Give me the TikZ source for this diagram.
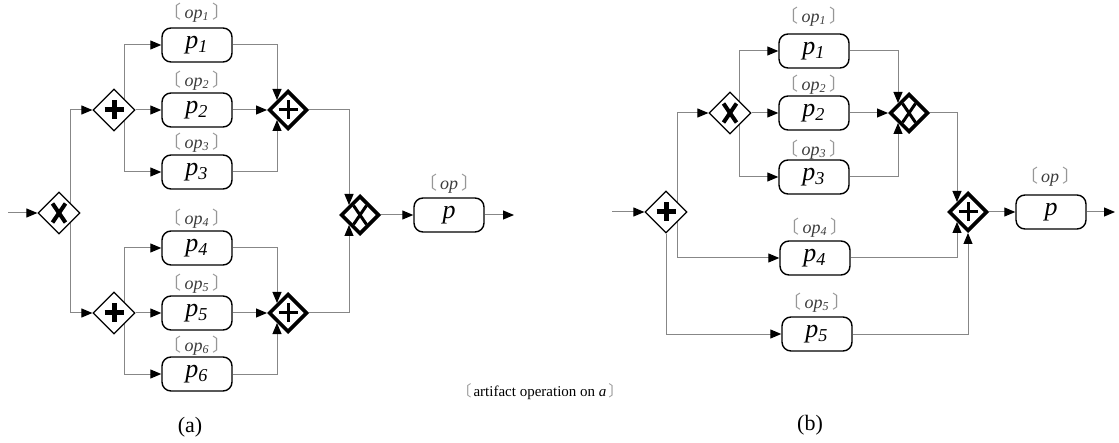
\documentclass[tikz,border=0pt]{standalone}
\usepackage{fontspec}
\setmainfont{Liberation Serif}
\newfontfamily\cjk{Noto Sans CJK SC}
\usetikzlibrary{shapes.geometric,arrows.meta,calc,backgrounds}
\definecolor{flowcolor}{RGB}{135,135,135}
\definecolor{bracketcolor}{RGB}{150,150,150}
\definecolor{opcolor}{RGB}{60,60,60}
\newcommand{\opbox}[1]{{\color{bracketcolor}\cjk 〔}\hspace{1.5pt}{\color{opcolor}\textit{#1}}\hspace{1.5pt}{\color{bracketcolor}\cjk 〕}}

\begin{document}
\begin{tikzpicture}[x=0.5pt,y=-0.5pt
,ptask/.style={draw=black,fill=white,rounded corners=4.5pt,line width=0.7pt,minimum width=35pt,minimum height=17pt,inner sep=0pt,font=\fontsize{13}{13}\selectfont\itshape}
,pgate/.style={diamond,draw=black,fill=white,aspect=1,inner sep=0pt}
,psplit/.style={pgate,line width=0.6pt,minimum size=21pt}
,pjoin/.style={pgate,line width=1.8pt,minimum size=19.2pt}
,pmarkx/.style={path picture={\draw[line width=#1] ($(path picture bounding box.center)+(-6.5,-9.5)$) -- ($(path picture bounding box.center)+(6.5,9.5)$) ($(path picture bounding box.center)+(6.5,-9.5)$) -- ($(path picture bounding box.center)+(-6.5,9.5)$);}}
,pmarkplus/.style={path picture={\draw[line width=#1] ($(path picture bounding box.center)+(-9.5,0)$) -- ($(path picture bounding box.center)+(9.5,0)$) ($(path picture bounding box.center)+(0,-9.5)$) -- ($(path picture bounding box.center)+(0,9.5)$);}}
,pflow/.style={draw=flowcolor,line width=0.5pt,-{Triangle[length=5.5pt,width=4.5pt,color=black]}}
,plabel/.style={inner sep=0pt,font=\fontsize{9}{10}\selectfont}
,pnote/.style={inner sep=0pt,font=\fontsize{7.5}{8}\selectfont}
,pcaption/.style={inner sep=0pt,font=\fontsize{11}{12}\selectfont}
]
\useasboundingbox (0,0) rectangle (1119,443);
\node[psplit,pmarkx=2pt] (ga) at (59,213) {};
\node[psplit,pmarkplus=2.5pt] (sa1) at (114,110) {};
\node[psplit,pmarkplus=2.5pt] (sa2) at (114,313) {};
\node[ptask] (pa1) at (197,45) {p\textsubscript{1}};
\node[ptask] (pa2) at (197,110) {p\textsubscript{2}};
\node[ptask] (pa3) at (197,172) {p\textsubscript{3}};
\node[ptask] (pa4) at (197,248) {p\textsubscript{4}};
\node[ptask] (pa5) at (197,313) {p\textsubscript{5}};
\node[ptask] (pa6) at (197,374) {p\textsubscript{6}};
\node[plabel] (opa1) at (197,13) {\opbox{op\textsubscript{1}}};
\node[plabel] (opa2) at (197,81) {\opbox{op\textsubscript{2}}};
\node[plabel] (opa3) at (197,143) {\opbox{op\textsubscript{3}}};
\node[plabel] (opa4) at (197,219) {\opbox{op\textsubscript{4}}};
\node[plabel] (opa5) at (197,284) {\opbox{op\textsubscript{5}}};
\node[plabel] (opa6) at (197,346) {\opbox{op\textsubscript{6}}};
\node[pjoin,pmarkplus=1.5pt] (ja1) at (288,110) {};
\node[pjoin,pmarkplus=1.5pt] (ja2) at (288,313) {};
\node[pjoin,pmarkx=1.5pt] (jxa) at (360,215) {};
\node[ptask] (pa) at (449,215) {p};
\node[plabel] (opa) at (449,184) {\opbox{op}};
\coordinate (ina) at (8,213);
\coordinate (outa) at (514,215);
\node[psplit,pmarkplus=2.5pt] (sb) at (666,212) {};
\node[psplit,pmarkx=2pt] (xb) at (730,113) {};
\node[ptask] (pb1) at (814,51) {p\textsubscript{1}};
\node[ptask] (pb2) at (814,113) {p\textsubscript{2}};
\node[ptask] (pb3) at (814,177) {p\textsubscript{3}};
\node[ptask] (pb4) at (815,258) {p\textsubscript{4}};
\node[ptask] (pb5) at (817,334) {p\textsubscript{5}};
\node[plabel] (opb1) at (814,17) {\opbox{op\textsubscript{1}}};
\node[plabel] (opb2) at (814,85) {\opbox{op\textsubscript{2}}};
\node[plabel] (opb3) at (814,150) {\opbox{op\textsubscript{3}}};
\node[plabel] (opb4) at (815,228) {\opbox{op\textsubscript{4}}};
\node[plabel] (opb5) at (817,303) {\opbox{op\textsubscript{5}}};
\node[pjoin,pmarkx=1.5pt] (jxb) at (909,113) {};
\node[pjoin,pmarkplus=1.5pt] (jb) at (968,212) {};
\node[ptask] (pb) at (1051,212) {p};
\node[plabel] (opb) at (1050,177) {\opbox{op}};
\coordinate (inb) at (612,212);
\coordinate (outb) at (1115,212);
\node[pnote] (note) at (540,392) {{\color{bracketcolor}\cjk 〔}\hspace{1pt}artifact operation on \textit{a}\hspace{1pt}{\color{bracketcolor}\cjk 〕}};
\node[pcaption] (capa) at (190,427) {(a)};
\node[pcaption] (capb) at (810,425) {(b)};
\begin{scope}[on background layer]
\draw[pflow] (ina) -- (ga.west);
\draw[pflow] ($(ga.center)+(11,0)$) |- (sa1.west);
\draw[pflow] ($(ga.center)+(11,0)$) |- (sa2.west);
\draw[pflow] ($(sa1.center)+(10,0)$) |- (pa1.west);
\draw[pflow] (sa1.east) -- (pa2.west);
\draw[pflow] ($(sa1.center)+(10,0)$) |- (pa3.west);
\draw[pflow] ($(sa2.center)+(10,0)$) |- (pa4.west);
\draw[pflow] (sa2.east) -- (pa5.west);
\draw[pflow] ($(sa2.center)+(10,0)$) |- (pa6.west);
\draw[pflow] (pa1.east) -| ($(ja1.center)+(-11,-10)$);
\draw[pflow] (pa2.east) -- (ja1.west);
\draw[pflow] (pa3.east) -| ($(ja1.center)+(-11,10)$);
\draw[pflow] (pa4.east) -| ($(ja2.center)+(-11,-10)$);
\draw[pflow] (pa5.east) -- (ja2.west);
\draw[pflow] (pa6.east) -| ($(ja2.center)+(-11,10)$);
\draw[pflow] (ja1.east) -| ($(jxa.center)+(-11,-10)$);
\draw[pflow] (ja2.east) -| ($(jxa.center)+(-11,10)$);
\draw[pflow] (jxa.east) -- (pa.west);
\draw[pflow] (pa.east) -- (outa);
\draw[pflow] (inb) -- (sb.west);
\draw[pflow] ($(sb.center)+(11,0)$) |- (xb.west);
\draw[pflow] ($(sb.center)+(11,0)$) |- (pb4.west);
\draw[pflow] (sb.south) |- (pb5.west);
\draw[pflow] ($(xb.center)+(9,0)$) |- (pb1.west);
\draw[pflow] (xb.east) -- (pb2.west);
\draw[pflow] ($(xb.center)+(9,0)$) |- (pb3.west);
\draw[pflow] (pb1.east) -| ($(jxb.center)+(-11,-10)$);
\draw[pflow] (pb2.east) -- (jxb.west);
\draw[pflow] (pb3.east) -| ($(jxb.center)+(-11,10)$);
\draw[pflow] (jxb.east) -| ($(jb.center)+(-11,-10)$);
\draw[pflow] (pb4.east) -| ($(jb.center)+(-11,10)$);
\draw[pflow] (pb5.east) -| (jb.south);
\draw[pflow] (jb.east) -- (pb.west);
\draw[pflow] (pb.east) -- (outb);
\end{scope}
\end{tikzpicture}
\end{document}
